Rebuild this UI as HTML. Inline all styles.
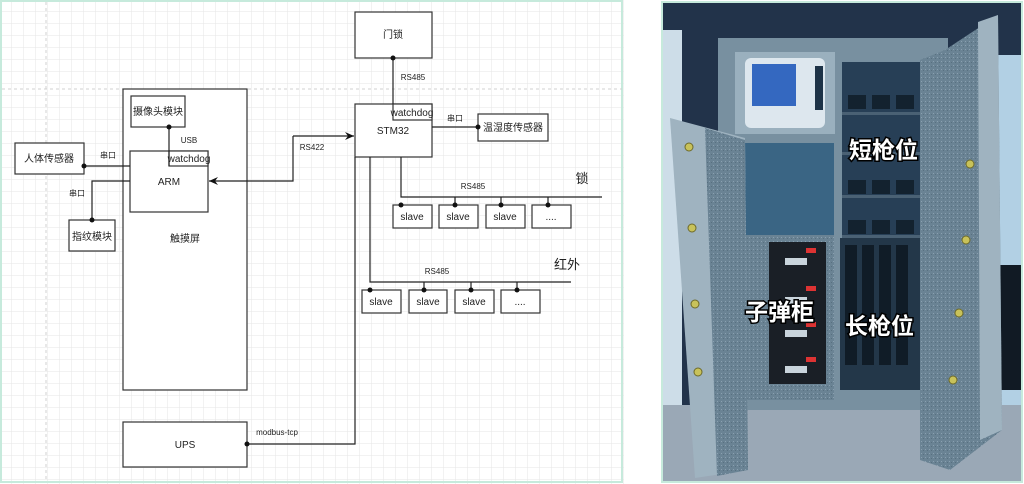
<!DOCTYPE html>
<html><head><meta charset="utf-8"><style>
html,body{margin:0;padding:0;width:1024px;height:484px;overflow:hidden;background:#fff}
svg{display:block}
text{font-family:"Liberation Sans","Noto Sans CJK SC",sans-serif;fill:#222}
</style></head><body>
<svg width="1024" height="484" viewBox="0 0 1024 484" xmlns="http://www.w3.org/2000/svg">
<defs>
<pattern id="g" width="12" height="12" patternUnits="userSpaceOnUse">
<path d="M12 0V12M0 12H12" stroke="#e6e6e6" stroke-width="1" fill="none"/>
</pattern>
<pattern id="sp" width="4" height="4" patternUnits="userSpaceOnUse">
<rect width="4" height="4" fill="#6a8394"/><rect x="1" y="1" width="1" height="1" fill="#8aa0b0"/><rect x="3" y="2" width="1" height="1" fill="#587080"/>
</pattern>
<marker id="ar" markerWidth="10" markerHeight="10" refX="9" refY="5" orient="auto" markerUnits="userSpaceOnUse">
<path d="M0 1L9 5L0 9L3 5Z" fill="#111"/>
</marker>
</defs>
<rect x="0" y="0" width="624" height="484" fill="url(#g)"/>
<rect x="1" y="1" width="621" height="481" fill="none" stroke="#c6eadc" stroke-width="2"/>
<line x1="46" y1="2" x2="46" y2="482" stroke="#d0d0d0" stroke-dasharray="3,3"/>
<line x1="2" y1="89" x2="622" y2="89" stroke="#d0d0d0" stroke-dasharray="3,3"/>
<g fill="#fff" stroke="#333" stroke-width="1.2">
<rect x="123" y="89" width="124" height="301"/>
<rect x="131" y="96" width="54" height="31"/>
<rect x="130" y="151" width="78" height="61"/>
<rect x="169" y="151" width="39" height="15"/>
<rect x="15" y="143" width="69" height="31"/>
<rect x="69" y="220" width="46" height="31"/>
<rect x="123" y="422" width="124" height="45"/>
<rect x="355" y="12" width="77" height="46"/>
<rect x="355" y="104" width="77" height="53"/>
<rect x="393" y="104" width="39" height="16"/>
<rect x="478" y="114" width="70" height="27"/>
<rect x="393" y="205" width="39" height="23"/><rect x="439" y="205" width="39" height="23"/><rect x="486" y="205" width="39" height="23"/><rect x="532" y="205" width="39" height="23"/>
<rect x="362" y="290" width="39" height="23"/><rect x="409" y="290" width="38" height="23"/><rect x="455" y="290" width="39" height="23"/><rect x="501" y="290" width="39" height="23"/>
</g>
<g fill="none" stroke="#222" stroke-width="1.2">
<path d="M169 127V166"/>
<path d="M84 166H130"/>
<path d="M130 181H92V220"/>
<path d="M293 136V181H209" marker-end="url(#ar)"/>
<path d="M293 136H354" marker-end="url(#ar)"/>
<path d="M393 58V104"/>
<path d="M432 127H478"/>
<path d="M401 157V197H602"/>
<path d="M370 157V282H571"/>
<path d="M355 157V444H247"/>
<path d="M455 197V205M501 197V205M548 197V205"/>
<path d="M424 282V290M471 282V290M517 282V290"/>
</g>
<g fill="#111">
<circle cx="169" cy="127" r="2.5"/><circle cx="84" cy="166" r="2.5"/><circle cx="92" cy="220" r="2.5"/>
<circle cx="393" cy="58" r="2.5"/><circle cx="478" cy="127" r="2.5"/>
<circle cx="401" cy="205" r="2.5"/><circle cx="455" cy="205" r="2.5"/><circle cx="501" cy="205" r="2.5"/><circle cx="548" cy="205" r="2.5"/>
<circle cx="370" cy="290" r="2.5"/><circle cx="424" cy="290" r="2.5"/><circle cx="471" cy="290" r="2.5"/><circle cx="517" cy="290" r="2.5"/>
<circle cx="247" cy="444" r="2.5"/>
</g>
<g font-size="10" text-anchor="middle">
<text x="158" y="115">摄像头模块</text>
<text x="189" y="143" font-size="8">USB</text>
<text x="189" y="162">watchdog</text>
<text x="169" y="185">ARM</text>
<text x="49" y="162">人体传感器</text>
<text x="108" y="158" font-size="8">串口</text>
<text x="77" y="196" font-size="8">串口</text>
<text x="92" y="240">指纹模块</text>
<text x="185" y="242">触摸屏</text>
<text x="185" y="448">UPS</text>
<text x="277" y="435" font-size="8">modbus-tcp</text>
<text x="312" y="150" font-size="8">RS422</text>
<text x="393" y="38">门锁</text>
<text x="413" y="80" font-size="8">RS485</text>
<text x="412" y="116">watchdog</text>
<text x="393" y="134">STM32</text>
<text x="455" y="121" font-size="8">串口</text>
<text x="513" y="131">温湿度传感器</text>
<text x="473" y="189" font-size="8">RS485</text>
<text x="582" y="183" font-size="13">锁</text>
<text x="437" y="274" font-size="8">RS485</text>
<text x="567" y="269" font-size="13">红外</text>
<text x="412" y="220">slave</text><text x="458" y="220">slave</text><text x="505" y="220">slave</text><text x="551" y="220">....</text>
<text x="381" y="305">slave</text><text x="428" y="305">slave</text><text x="474" y="305">slave</text><text x="520" y="305">....</text>
</g>
<!-- photo -->
<rect x="662" y="2" width="360" height="480" fill="#22334a"/>
<rect x="985" y="55" width="37" height="360" fill="#b2d0e4"/>
<rect x="662" y="30" width="20" height="390" fill="#cddde8"/>
<rect x="662" y="405" width="360" height="77" fill="#9aa8b6"/>
<rect x="1000" y="265" width="22" height="125" fill="#111a24"/>
<rect x="718" y="38" width="230" height="372" fill="#7890a0"/>
<rect x="735" y="52" width="100" height="82" fill="#9ab0be"/>
<rect x="745" y="58" width="80" height="70" rx="6" fill="#dde7ee"/>
<rect x="752" y="64" width="44" height="42" fill="#3468c0"/>
<rect x="815" y="66" width="8" height="44" fill="#1d3347"/>
<rect x="842" y="62" width="92" height="175" fill="#273f56"/>
<g fill="#4a6174"><rect x="842" y="112" width="92" height="3"/><rect x="842" y="152" width="92" height="3"/><rect x="842" y="195" width="92" height="3"/><rect x="842" y="235" width="92" height="3"/></g>
<g fill="#13222f"><rect x="848" y="95" width="18" height="14"/><rect x="872" y="95" width="18" height="14"/><rect x="896" y="95" width="18" height="14"/><rect x="848" y="180" width="18" height="14"/><rect x="872" y="180" width="18" height="14"/><rect x="896" y="180" width="18" height="14"/><rect x="848" y="220" width="18" height="14"/><rect x="872" y="220" width="18" height="14"/><rect x="896" y="220" width="18" height="14"/></g>
<rect x="740" y="143" width="94" height="92" fill="#3a6584"/>
<rect x="742" y="235" width="92" height="165" fill="url(#sp)"/>
<rect x="769" y="242" width="57" height="142" fill="#1a1f26"/>
<g fill="#c9d4dc"><rect x="785" y="258" width="22" height="7"/><rect x="785" y="297" width="22" height="7"/><rect x="785" y="330" width="22" height="7"/><rect x="785" y="366" width="22" height="7"/></g>
<g fill="#d33"><rect x="806" y="248" width="10" height="5"/><rect x="806" y="286" width="10" height="5"/><rect x="806" y="322" width="10" height="5"/><rect x="806" y="357" width="10" height="5"/></g>
<rect x="840" y="238" width="82" height="152" fill="#233749"/>
<g fill="#101c27"><rect x="845" y="245" width="12" height="120"/><rect x="862" y="245" width="12" height="120"/><rect x="879" y="245" width="12" height="120"/><rect x="896" y="245" width="12" height="120"/></g>
<polygon points="670,118 745,138 748,470 695,478" fill="#9fb3c0"/>
<polygon points="705,128 745,140 748,470 717,476" fill="url(#sp)"/>
<polygon points="920,60 945,50 998,15 1002,430 950,470 920,460" fill="url(#sp)"/>
<polygon points="978,22 998,15 1002,430 980,440" fill="#9fb3c0"/>
<g fill="#c8c25a" stroke="#6d6a2a"><circle cx="689" cy="147" r="4"/><circle cx="692" cy="228" r="4"/><circle cx="695" cy="304" r="4"/><circle cx="698" cy="372" r="4"/><circle cx="970" cy="164" r="4"/><circle cx="966" cy="240" r="4"/><circle cx="959" cy="313" r="4"/><circle cx="953" cy="380" r="4"/></g>
<g font-size="23" font-weight="bold" style="paint-order:stroke" stroke="#000" stroke-width="3">
<text x="849" y="158" style="fill:#fff">短枪位</text>
<text x="745" y="320" style="fill:#fff">子弹柜</text>
<text x="845" y="334" style="fill:#fff">长枪位</text>
</g>
<rect x="662" y="2" width="360" height="480" fill="none" stroke="#c6eadc" stroke-width="2"/>
</svg>
</body></html>
